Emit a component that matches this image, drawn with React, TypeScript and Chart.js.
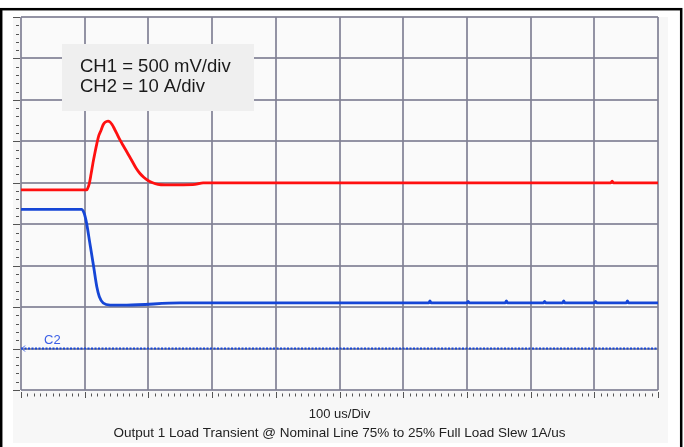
import React, { useEffect, useRef } from "react";
import { Chart, registerables } from "chart.js";

Chart.register(...registerables);

// Time axis in microseconds (100 us/div, 10 divisions)
const X_MIN_US = 0;
const X_MAX_US = 1000;
const X_STEP_US = 100;
// Vertical axis in screen divisions (9 divisions)
const Y_MIN_DIV = 0;
const Y_MAX_DIV = 9;

// CH1 (output voltage, 500 mV/div) — red trace, position in divisions
const CH1_T = [0, 103, 107, 110, 113, 116, 119, 122, 126, 129, 132, 136.6, 139.7, 142.9, 146, 150.7, 155.4, 161.7, 168, 174.3, 180.5, 186.8, 193.1, 199.4, 205.7, 215, 226, 250, 273, 286, 600, 926, 928, 930, 1000];
const CH1_V = [4.83, 4.83, 4.97, 5.21, 5.48, 5.72, 5.94, 6.13, 6.28, 6.4, 6.46, 6.49, 6.467, 6.407, 6.322, 6.178, 6.033, 5.864, 5.695, 5.526, 5.357, 5.224, 5.128, 5.055, 5.007, 4.959, 4.947, 4.95, 4.96, 5.0, 5.0, 5.0, 5.04, 5.0, 5.0];

// CH2 (load current, 10 A/div) — blue trace, position in divisions
const CH2_T = [0, 95, 99, 103, 108, 114, 119, 123, 129, 140, 166, 250, 640, 642, 644, 700, 702, 704, 760, 762, 764, 820, 822, 824, 850, 852, 854, 900, 902, 904, 950, 952, 954, 1000];
const CH2_V = [4.36, 4.36, 4.27, 4.02, 3.55, 2.98, 2.49, 2.25, 2.1, 2.05, 2.05, 2.1, 2.1, 2.15, 2.1, 2.1, 2.14, 2.1, 2.1, 2.15, 2.1, 2.1, 2.14, 2.1, 2.1, 2.15, 2.1, 2.1, 2.14, 2.1, 2.1, 2.15, 2.1, 2.1];

// CH2 ground reference marker level (divisions)
const C2_REF_T = [0, 1000];
const C2_REF_V = [1.0, 1.0];

const INFO_LINES = ["CH1 = 500 mV/div", "CH2 = 10 A/div"];
const X_LABEL = "100 us/Div";
const TITLE = "Output 1 Load Transient @ Nominal Line 75% to 25% Full Load Slew 1A/us";
const C2_LABEL = "C2";

const RED = "#ff1010";
const BLUE = "#1646d6";

const toXY = (t: number[], v: number[]) => t.map((x, i) => ({ x, y: v[i] }));

const decorPlugin = {
  id: "scopeDecor",
  beforeDraw(chart: any) {
    const { ctx, chartArea: a, width, height } = chart;
    ctx.save();
    ctx.fillStyle = "#ffffff";
    ctx.fillRect(0, 0, width, height);
    ctx.fillStyle = "#f7f7f7";
    ctx.fillRect(13, a.top, 655, 443 - a.top);
    ctx.fillStyle = "#fafafa";
    ctx.fillRect(a.left, a.top, a.right - a.left, a.bottom - a.top);
    ctx.strokeStyle = "#000";
    ctx.lineWidth = 2.5;
    ctx.strokeRect(1.2, 9.2, 680, 460);
    ctx.restore();
  },
  afterDraw(chart: any) {
    const { ctx, chartArea: a } = chart;
    const xs = chart.scales.x;
    const ys = chart.scales.y;
    ctx.save();
    ctx.strokeStyle = "#555";
    ctx.lineWidth = 1;
    ctx.beginPath();
    for (let i = 0; i <= 100; i++) {
      const px = Math.round(xs.getPixelForValue(X_MIN_US + (i * X_STEP_US) / 10)) + 0.5;
      const major = i % 10 === 0;
      ctx.moveTo(px, a.bottom + (major ? 2 : 3.5));
      ctx.lineTo(px, a.bottom + (major ? 8 : 6.5));
    }
    for (let i = 0; i <= 45; i++) {
      const py = Math.round(ys.getPixelForValue(Y_MIN_DIV + i * 0.2)) + 0.5;
      const major = i % 5 === 0;
      ctx.moveTo(a.left - (major ? 8 : 5), py);
      ctx.lineTo(a.left - (major ? 1 : 2), py);
    }
    ctx.stroke();

    ctx.fillStyle = "#efefef";
    ctx.fillRect(62, 44, 192, 67);
    ctx.fillStyle = "#1a1a1a";
    ctx.font = '18.5px "Liberation Sans", Arial, sans-serif';
    ctx.textBaseline = "alphabetic";
    ctx.textAlign = "left";
    ctx.fillText(INFO_LINES[0], 80, 72);
    ctx.fillText(INFO_LINES[1], 80, 92);

    const c2y = ys.getPixelForValue(C2_REF_V[0]);
    ctx.fillStyle = "#3a5ee6";
    ctx.font = '13px "Liberation Sans", Arial, sans-serif';
    ctx.fillText(C2_LABEL, 44, c2y - 5);
    ctx.strokeStyle = "#3a5ee6";
    ctx.lineWidth = 1;
    ctx.beginPath();
    ctx.moveTo(a.left + 4, c2y - 3);
    ctx.lineTo(a.left + 1, c2y);
    ctx.lineTo(a.left + 4, c2y + 3);
    ctx.stroke();

    const cx = (a.left + a.right) / 2;
    ctx.fillStyle = "#222";
    ctx.textAlign = "center";
    ctx.font = '13px "Liberation Sans", Arial, sans-serif';
    ctx.fillText(X_LABEL, cx, 418);
    ctx.font = '13.5px "Liberation Sans", Arial, sans-serif';
    ctx.fillText(TITLE, cx, 437);
    ctx.restore();
  },
};

export default function App() {
  const ref = useRef<HTMLCanvasElement | null>(null);
  useEffect(() => {
    if (!ref.current) return;
    const chart = new Chart(ref.current, {
      type: "line",
      data: {
        datasets: [
          {
            label: "C2 ref",
            data: toXY(C2_REF_T, C2_REF_V),
            borderColor: BLUE,
            borderWidth: 2,
            borderDash: [2, 1.5],
            pointRadius: 0,
            tension: 0,
          },
          {
            label: "CH2",
            data: toXY(CH2_T, CH2_V),
            borderColor: BLUE,
            borderWidth: 2.8,
            pointRadius: 0,
            cubicInterpolationMode: "monotone",
          },
          {
            label: "CH1",
            data: toXY(CH1_T, CH1_V),
            borderColor: RED,
            borderWidth: 2.8,
            pointRadius: 0,
            cubicInterpolationMode: "monotone",
          },
        ],
      },
      options: {
        animation: false,
        responsive: false,
        devicePixelRatio: 1,
        layout: { padding: { left: 21, top: 17, right: 26, bottom: 57 } },
        plugins: { legend: { display: false }, tooltip: { enabled: false }, title: { display: false } },
        scales: {
          x: {
            type: "linear",
            min: X_MIN_US,
            max: X_MAX_US,
            ticks: { display: false, stepSize: X_STEP_US },
            grid: { drawTicks: false, color: "rgba(128,128,148,0.85)", lineWidth: 2 },
            border: { display: false },
          },
          y: {
            type: "linear",
            min: Y_MIN_DIV,
            max: Y_MAX_DIV,
            ticks: { display: false, stepSize: 1 },
            grid: { drawTicks: false, color: "rgba(128,128,148,0.85)", lineWidth: 2 },
            border: { display: false },
          },
        },
      },
      plugins: [decorPlugin],
    });
    return () => chart.destroy();
  }, []);
  return (
    <div style={{ position: "fixed", left: 0, top: 0, width: 684, height: 447, background: "#fff" }}>
      <canvas ref={ref} width={684} height={447} style={{ width: 684, height: 447, display: "block" }} />
    </div>
  );
}
